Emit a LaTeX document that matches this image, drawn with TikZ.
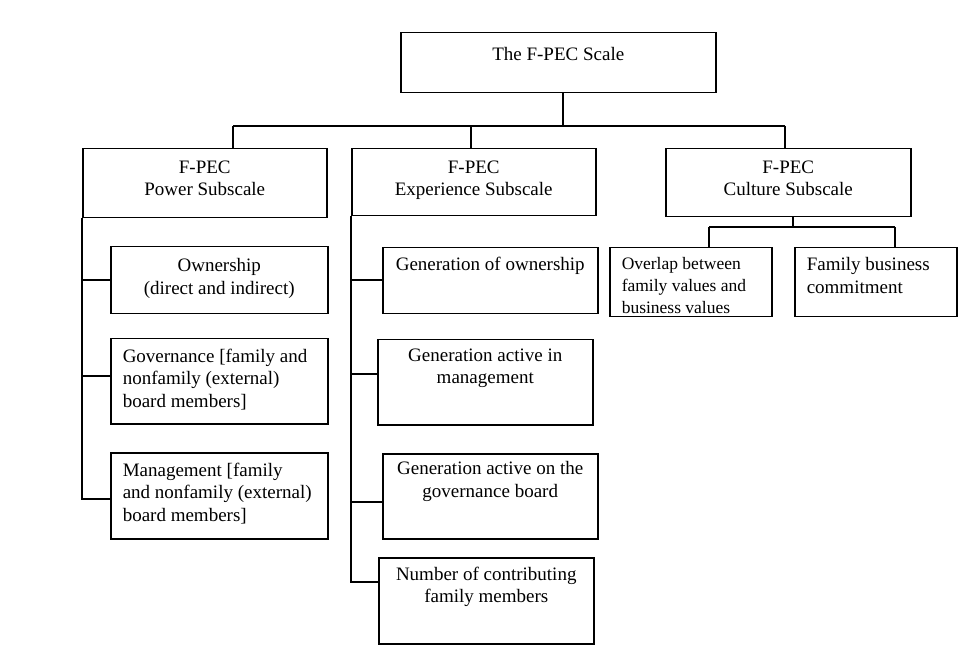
\documentclass[tikz,border=0pt]{standalone}
\usepackage{fontspec}
\setmainfont{Liberation Serif}
\newcommand{\bxt}[5]{\parbox[t][#2pt][t]{#1pt}{\vspace*{#3pt}#4#5\par}}
\newcommand{\lft}{\raggedright\leftskip=12pt\relax}
\tikzset{
  box/.style={draw, line width=1.5pt, inner sep=0pt, anchor=north west,
    font=\fontsize{19}{22.5}\selectfont},
  link/.style={line width=1.5pt}
}
\begin{document}
\begin{tikzpicture}[x=1pt,y=-1pt]
\useasboundingbox[fill=white] (0,0) rectangle (972,668);
% top
\node[box] (top) at (400,32) {\bxt{315}{60}{15}{\centering}{The F-PEC Scale}};
% subscales
\node[box] (pw) at (82,148) {\bxt{244}{69}{12}{\centering}{F-PEC\\Power Subscale}};
\node[box] (ex) at (351,148) {\bxt{244}{67}{12}{\centering}{F-PEC\\Experience Subscale}};
\node[box] (cu) at (665,148) {\bxt{245}{68}{12}{\centering}{F-PEC\\Culture Subscale}};
% power children
\node[box] (p1) at (110,246) {\bxt{217}{67}{12}{\centering}{Ownership\\(direct and indirect)}};
\node[box] (p2) at (110,338) {\bxt{217}{85}{10}{\lft}{Governance [family and\\nonfamily (external)\\board members]}};
\node[box] (p3) at (110,452) {\bxt{217}{86}{10}{\lft}{Management [family\\and nonfamily (external)\\board members]}};
% experience children
\node[box] (e1) at (382,247) {\bxt{215}{66}{9}{\centering}{Generation of ownership}};
\node[box] (e2) at (377,339) {\bxt{215}{85}{9}{\centering}{Generation active in\\management}};
\node[box] (e3) at (382,453) {\bxt{215}{85}{8}{\centering}{Generation active on the\\governance board}};
\node[box] (e4) at (378,557) {\bxt{215}{86}{9}{\centering}{Number of contributing\\family members}};
% culture children
\node[box] (c1) at (609,247) {\bxt{162}{69}{10}{\lft}{\fontsize{17.5}{22}\selectfont Overlap between\\family values and\\business values}};
\node[box] (c2) at (794,247) {\bxt{162}{69}{10}{\lft}{Family business\\commitment}};
% tree connectors
\coordinate (hub) at (563,126);
\coordinate (hl) at (233,126);
\coordinate (hm) at (471,126);
\coordinate (hr) at (785,126);
\draw[link] (top.south -| hub) -- (hub);
\draw[link] (hl) -- (hr);
\draw[link] (hl) -- (hl |- pw.north);
\draw[link] (hm) -- (hm |- ex.north);
\draw[link] (hr) -- (hr |- cu.north);
% power spine
\draw[link] (pw.south west) -- (pw.south west |- 0,499) -- (p3.west |- 0,499);
\draw[link] (pw.west |- 0,280) -- (p1.west |- 0,280);
\draw[link] (pw.west |- 0,376) -- (p2.west |- 0,376);
% experience spine
\draw[link] (ex.south west) -- (ex.south west |- 0,582) -- (e4.west |- 0,582);
\draw[link] (ex.west |- 0,280) -- (e1.west |- 0,280);
\draw[link] (ex.west |- 0,374) -- (e2.west |- 0,374);
\draw[link] (ex.west |- 0,502) -- (e3.west |- 0,502);
% culture
\coordinate (cj) at (793,227);
\coordinate (cjl) at (709,227);
\coordinate (cjr) at (895,227);
\draw[link] (cu.south -| cj) -- (cj);
\draw[link] (cjl) -- (cjr);
\draw[link] (cjl) -- (cjl |- c1.north);
\draw[link] (cjr) -- (cjr |- c2.north);
\end{tikzpicture}
\end{document}
